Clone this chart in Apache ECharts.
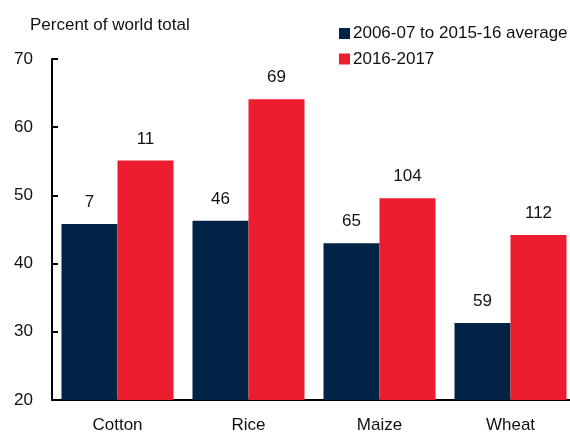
<!DOCTYPE html>
<html>
<head>
<meta charset="utf-8">
<script src="https://cdn.jsdelivr.net/npm/echarts@6/dist/echarts.min.js"></script>
<style>html,body{margin:0;padding:0;background:#fff;overflow:hidden}#c{width:576px;height:434px}</style>
</head>
<body>
<div id="c"></div>
<script>
const categories = ['Cotton', 'Rice', 'Maize', 'Wheat'];
const seriesNames = ['2006-07 to 2015-16 average', '2016-2017'];
const avgValues = [45.8, 46.3, 43.0, 31.3];
const recentValues = [55.1, 64.1, 49.6, 44.2];
const avgLabels = [7, 46, 65, 59];
const recentLabels = [11, 69, 104, 112];
const yTicks = { min: 20, max: 70, interval: 10 };

const FONT = '"Liberation Sans", Arial, sans-serif';
const FS = 17;
const chart = echarts.init(document.getElementById('c'));
function labelCfg(arr) {
  return {
    show: true, position: 'top', distance: 13,
    color: '#111', fontSize: FS, fontFamily: FONT,
    formatter: p => String(arr[p.dataIndex])
  };
}
chart.setOption({
  animation: false,
  textStyle: { fontFamily: FONT },
  title: {
    text: 'Percent of world total', left: 25, top: 12,
    textStyle: { fontSize: FS, fontWeight: 'normal', color: '#111', fontFamily: FONT }
  },
  legend: {
    orient: 'vertical', left: 339, top: 25, padding: 0, itemWidth: 11, itemHeight: 11, itemGap: 8.5,
    icon: 'rect',
    textStyle: { fontSize: FS, color: '#111', fontFamily: FONT, padding: [0, 0, 0, -2] },
    data: seriesNames
  },
  grid: { left: 52, right: 0, top: 59, bottom: 34, containLabel: false },
  xAxis: {
    type: 'category', data: categories,
    axisLine: { lineStyle: { color: '#000', width: 2 } },
    axisTick: { show: false },
    axisLabel: { color: '#111', fontSize: FS, fontFamily: FONT, margin: 17 }
  },
  yAxis: {
    type: 'value', min: yTicks.min, max: yTicks.max, interval: yTicks.interval,
    splitLine: { show: false },
    axisLine: { show: true, lineStyle: { color: '#000', width: 2 } },
    axisTick: { show: true, inside: true, length: 6, lineStyle: { color: '#000', width: 2 } },
    axisLabel: { color: '#111', fontSize: FS, fontFamily: FONT, margin: 19 }
  },
  series: [
    { name: seriesNames[0], type: 'bar', data: avgValues, barGap: '0%', barCategoryGap: '14.5%',
      itemStyle: { color: '#012345' }, label: labelCfg(avgLabels) },
    { name: seriesNames[1], type: 'bar', data: recentValues,
      itemStyle: { color: '#EB1D2F' }, label: labelCfg(recentLabels) }
  ]
});
</script>
</body>
</html>
